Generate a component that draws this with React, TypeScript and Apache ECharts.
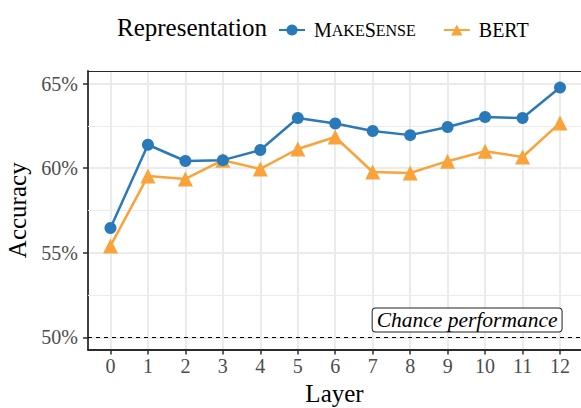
import React, { useEffect, useRef } from "react";
import * as echarts from "echarts";

const layers = [0, 1, 2, 3, 4, 5, 6, 7, 8, 9, 10, 11, 12];
const makeSense = [56.46, 61.38, 60.42, 60.47, 61.07, 62.96, 62.64, 62.19, 61.95, 62.43, 63.02, 62.96, 64.76];
const bert = [55.4, 59.53, 59.36, 60.47, 59.95, 61.13, 61.84, 59.77, 59.71, 60.41, 61.0, 60.66, 62.67];
const yTicks = [50, 55, 60, 65];
const yMinor = [52.5, 57.5, 62.5];
const chanceLevel = 50;
const chanceLabel = "Chance performance";
const chanceLabelPos = [9.52, 51.02];
const legendTitle = "Representation";

const FONT = "'Liberation Serif', 'DejaVu Serif', serif";
const BLUE = "#2a79b8";
const ORANGE = "#f9a33a";
const AXIS = "#2b2b2b";
const GRID = "#ebebeb";

export default function App() {
  const ref = useRef<HTMLDivElement>(null);
  useEffect(() => {
    if (!ref.current) return;
    const chart = echarts.init(ref.current, undefined, { renderer: "svg" });
    const xMin = -0.6;
    const xMax = 12.56;
    const yMin = 49.28;
    const yMax = 65.74;
    chart.setOption({
      animation: false,
      backgroundColor: "#ffffff",
      title: {
        text: legendTitle,
        left: 112,
        top: 6,
        textStyle: { fontFamily: FONT, fontSize: 25, fontWeight: "normal", color: "#000", lineHeight: 32 },
      },
      legend: {
        left: 273,
        top: 15,
        itemWidth: 26,
        itemHeight: 14,
        itemGap: 27,
        data: ["MakeSense", "BERT"],
        formatter: (name: string) =>
          name === "MakeSense" ? "{big|M}{small|AKE}{big|S}{small|ENSE}" : "{big|BERT}",
        textStyle: {
          fontFamily: FONT,
          color: "#000",
          padding: [0, 0, 0, 4],
          rich: {
            big: { fontFamily: FONT, fontSize: 20, color: "#000" },
            small: { fontFamily: FONT, fontSize: 16, color: "#000" },
          },
        },
      },
      grid: { left: 88, right: 0, top: 71, bottom: 58.5, containLabel: false, outerBoundsMode: "none" },
      xAxis: [
        {
          type: "value",
          min: xMin,
          max: xMax,
          name: "Layer",
          nameLocation: "middle",
          nameGap: 31,
          nameTextStyle: { fontFamily: FONT, fontSize: 25, color: "#000" },
          axisLine: { show: true, onZero: false, lineStyle: { color: AXIS, width: 1.8 } },
          axisTick: { show: true, length: 5, lineStyle: { color: AXIS, width: 1.5 }, customValues: layers },
          axisLabel: {
            customValues: layers,
            fontFamily: FONT,
            fontSize: 20,
            color: "#4d4d4d",
            margin: 6,
            formatter: (v: number) => String(v),
          },
          splitLine: { show: true, lineStyle: { color: GRID, width: 2 } },
        },
        {
          type: "value",
          position: "top",
          min: xMin,
          max: xMax,
          axisLine: { show: true, onZero: false, lineStyle: { color: AXIS, width: 1 } },
          axisTick: { show: false },
          axisLabel: { show: false },
          splitLine: { show: false },
        },
      ],
      yAxis: {
        type: "value",
        min: yMin,
        max: yMax,
        name: "Accuracy",
        nameLocation: "middle",
        nameGap: 55,
        nameTextStyle: { fontFamily: FONT, fontSize: 25, color: "#000" },
        axisLine: { show: true, onZero: false, lineStyle: { color: AXIS, width: 1.8 } },
        axisTick: { show: true, length: 5, lineStyle: { color: AXIS, width: 1.5 }, customValues: yTicks },
        axisLabel: {
          customValues: yTicks,
          fontFamily: FONT,
          fontSize: 20,
          color: "#4d4d4d",
          margin: 10,
          formatter: (v: number) => `${v}%`,
        },
        splitLine: { show: true, lineStyle: { color: GRID, width: 2 } },
      },
      series: [
        {
          name: "MakeSense",
          type: "line",
          data: layers.map((l, i) => [l, makeSense[i]]),
          symbol: "circle",
          symbolSize: 12,
          itemStyle: { color: BLUE },
          lineStyle: { color: BLUE, width: 2.5 },
          z: 3,
          markLine: {
            silent: true,
            symbol: ["none", "none"],
            z: 1,
            label: { show: false },
            lineStyle: { color: GRID, width: 1.2, type: "solid" },
            data: yMinor.map((v) => ({ yAxis: v })),
          },
        },
        {
          name: "BERT",
          type: "line",
          data: layers.map((l, i) => [l, bert[i]]),
          symbol: "triangle",
          symbolSize: 15,
          itemStyle: { color: ORANGE },
          lineStyle: { color: ORANGE, width: 2.5 },
          z: 2,
          markLine: {
            silent: true,
            symbol: ["none", "none"],
            z: 2,
            label: { show: false },
            lineStyle: { color: "#000", width: 1, type: [4, 4] },
            data: [{ yAxis: chanceLevel }],
          },
        },
      ],
    });
    const p = chart.convertToPixel({ xAxisIndex: 0, yAxisIndex: 0 }, chanceLabelPos) as number[];
    chart.setOption({
      graphic: [
        {
          type: "text",
          x: p[0],
          y: p[1],
          z: 10,
          style: {
            text: chanceLabel,
            fontFamily: FONT,
            fontStyle: "italic",
            fontSize: 21.5,
            fill: "#000",
            align: "center",
            verticalAlign: "middle",
            backgroundColor: "#fff",
            borderColor: "#222",
            borderWidth: 1,
            borderRadius: 3,
            padding: [1, 4, 0, 4],
          },
        },
      ],
    });
    return () => chart.dispose();
  }, []);
  return (
    <div
      ref={ref}
      style={{ position: "fixed", left: 0, top: 0, width: 581, height: 408 }}
    />
  );
}
